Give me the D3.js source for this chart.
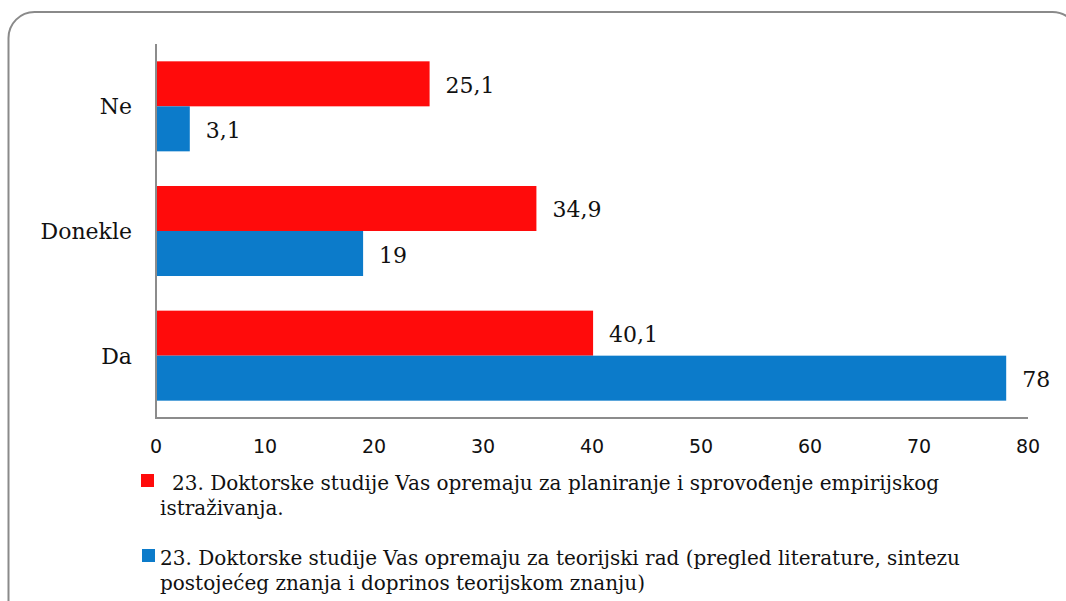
<!DOCTYPE html>
<html>
<head>
<meta charset="utf-8">
<script src="https://cdn.jsdelivr.net/npm/d3@7"></script>
<style>
  body { margin: 0; background: #fff; }
</style>
</head>
<body>
<div id="grafik"></div>
<script>
//----------------------------------------------------------------
// podaci
var kategorije = ["Ne", "Donekle", "Da"];
var empirijski = [25.1, 34.9, 40.1];
var teorijski = [3.1, 19, 78];
var tickovi = [0, 10, 20, 30, 40, 50, 60, 70, 80];
var legenda = [
  ["23. Doktorske studije Vas opremaju za planiranje i sprovođenje empirijskog", "istraživanja."],
  ["23. Doktorske studije Vas opremaju za teorijski rad (pregled literature, sintezu", "postojećeg znanja i doprinos teorijskom znanju)"]
];
var boje = ["#ff0b0b", "#0c7bca"];

//----------------------------------------------------------------
// svg
var sirina = 1066, visina = 601;
var svg = d3.select("#grafik")
  .append("svg")
  .attr("width", sirina)
  .attr("height", visina);

var serif = "'DejaVu Serif', serif";
var sans = "'DejaVu Sans', sans-serif";

// okvir
svg.append("rect")
  .attr("x", 8.5)
  .attr("y", 12)
  .attr("width", 1070)
  .attr("height", 640)
  .attr("rx", 26)
  .attr("fill", "none")
  .attr("stroke", "#8a8a8a")
  .attr("stroke-width", 2);

//----------------------------------------------------------------
// skale
var x = d3.scaleLinear()
  .domain([0, 80])
  .range([156, 1028]);

var y = d3.scaleBand()
  .domain(kategorije)
  .range([44, 418])
  .paddingInner(0.278)
  .paddingOuter(0.139);

var ySerija = d3.scaleBand()
  .domain([0, 1])
  .range([0, y.bandwidth()]);

var serije = [empirijski, teorijski];

function formatBroj(v) {
  return String(v).replace(".", ",");
}

//----------------------------------------------------------------
// stubici i oznake
serije.forEach(function(vrijednosti, s) {
  var podaci = kategorije.map(function(k, i) { return {k: k, v: vrijednosti[i]}; });
  svg.selectAll(".bar" + s)
    .data(podaci)
    .enter()
    .append("rect")
    .attr("class", "bar" + s)
    .attr("x", x(0))
    .attr("y", function(d) { return y(d.k) + ySerija(s); })
    .attr("width", function(d) { return x(d.v) - x(0); })
    .attr("height", ySerija.bandwidth())
    .attr("fill", boje[s]);

  svg.selectAll(".lab" + s)
    .data(podaci)
    .enter()
    .append("text")
    .attr("class", "lab" + s)
    .attr("x", function(d) { return x(d.v) + 16; })
    .attr("y", function(d) { return y(d.k) + ySerija(s) + ySerija.bandwidth() / 2 + 3; })
    .attr("dominant-baseline", "middle")
    .attr("font-family", serif)
    .attr("font-size", "22px")
    .attr("fill", "#111")
    .text(function(d) { return formatBroj(d.v); });
});

//----------------------------------------------------------------
// ose
svg.append("line")
  .attr("x1", x(0)).attr("x2", x(0))
  .attr("y1", 44).attr("y2", 419)
  .attr("stroke", "#8c8c8c")
  .attr("stroke-width", 2);
svg.append("line")
  .attr("x1", x(0) - 1).attr("x2", x(80))
  .attr("y1", 418).attr("y2", 418)
  .attr("stroke", "#8c8c8c")
  .attr("stroke-width", 2);

svg.selectAll(".tick")
  .data(tickovi)
  .enter()
  .append("text")
  .attr("class", "tick")
  .attr("x", function(d) { return x(d); })
  .attr("y", 453)
  .attr("text-anchor", "middle")
  .attr("font-family", sans)
  .attr("font-size", "19px")
  .attr("fill", "#111")
  .text(function(d) { return d; });

svg.selectAll(".kat")
  .data(kategorije)
  .enter()
  .append("text")
  .attr("class", "kat")
  .attr("x", 132)
  .attr("y", function(d) { return y(d) + y.bandwidth() / 2 + 2; })
  .attr("text-anchor", "end")
  .attr("dominant-baseline", "middle")
  .attr("font-family", serif)
  .attr("font-size", "22px")
  .attr("fill", "#111")
  .text(function(d) { return d; });

//----------------------------------------------------------------
// legenda
var legY = [490, 565];
var legX = [172, 160];
legenda.forEach(function(linije, s) {
  svg.append("rect")
    .attr("x", s == 0 ? 141 : 142)
    .attr("y", legY[s] - 16)
    .attr("width", 13)
    .attr("height", 13)
    .attr("fill", boje[s]);
  svg.selectAll(".leg" + s)
    .data(linije)
    .enter()
    .append("text")
    .attr("class", "leg" + s)
    .attr("x", function(d, i) { return i == 0 ? legX[s] : 160; })
    .attr("y", function(d, i) { return legY[s] + i * 25; })
    .attr("font-family", serif)
    .attr("font-size", "20px")
    .attr("fill", "#111")
    .text(function(d) { return d; });
});
</script>
</body>
</html>
